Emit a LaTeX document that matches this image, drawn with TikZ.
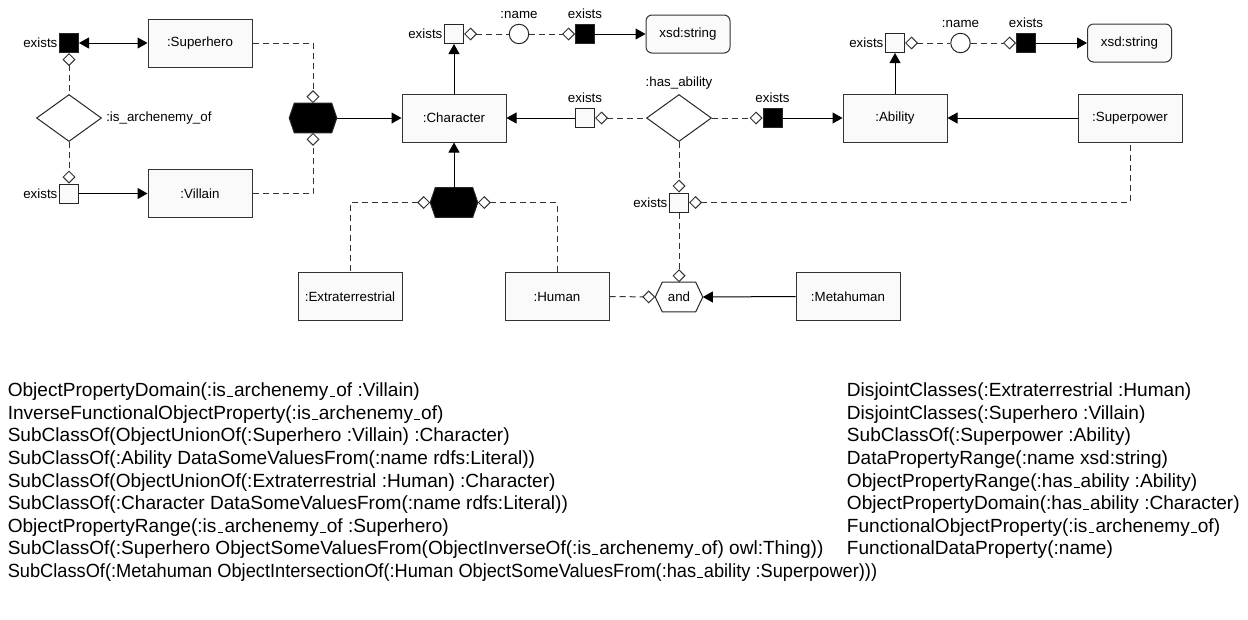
\documentclass[tikz,border=0pt]{standalone}
\usepackage{fontspec}
\usepackage{graphicx}
\setmainfont{Liberation Sans}
\usetikzlibrary{arrows.meta,shapes.geometric}

% underscore as a short rule on the baseline
\newcommand{\axus}{\kern.06em\vbox{\hrule width .3em}\kern.06em}

\tikzset{
  tri/.tip={Triangle[length=7.5pt,width=8.25pt]},
  dmd/.tip={Diamond[open,length=9.75pt,width=9.75pt]},
  cls/.style={rectangle, draw=black!80, fill=black!2, line width=0.75pt,
    minimum width=78pt, minimum height=36pt, inner sep=0pt},
  dtype/.style={cls, rounded corners=4.5pt, minimum width=63pt, minimum height=28.5pt},
  exw/.style={rectangle, draw=black!85, fill=black!2, line width=0.75pt,
    minimum size=14.25pt, inner sep=0pt},
  exb/.style={exw, fill=black},
  prop/.style={diamond, draw=black!85, fill=white, line width=0.75pt,
    minimum width=48.75pt, minimum height=35.25pt, inner sep=0pt},
  dprop/.style={circle, draw=black!85, fill=white, line width=0.75pt,
    minimum size=14.6pt, inner sep=0pt},
  hexbox/.style={rectangle, minimum width=35.25pt, minimum height=21.75pt, inner sep=0pt},
  hexline/.style={draw=black!85, line width=0.75pt},
  sub/.style={draw=black, line width=0.75pt, -{tri}},
  link/.style={draw=black!80, line width=0.75pt, dash pattern=on 4.5pt off 3pt},
  lblL/.style 2 args={label={[name=#1,inner sep=0pt,label distance=1pt]left:{#2}}},
  lblA/.style 2 args={label={[name=#1,inner sep=0pt,label distance=3.5pt]above:{#2}}},
  lblR/.style 2 args={label={[name=#1,inner sep=0pt,label distance=3pt]right:{#2}}},
  axiom/.style={anchor=base west, inner sep=0pt, font=\fontsize{14.3pt}{17pt}\selectfont},
}

\begin{document}
\begin{tikzpicture}[x=0.75pt, y=-0.75pt, font=\fontsize{10pt}{12pt}\selectfont]
\useasboundingbox (0,0) rectangle (1248,619);

% ---------- heroes and villains ----------
\node[cls] (hero) at (200,43) {:Superhero};
\node[cls] (villain) at (200,193.5) {:Villain};
\node[exb, lblL={lExHero}{exists}] (exHero) at (69,43) {};
\node[prop, lblR={lIsA}{:is\_archenemy\_of}] (isA) at (69,118) {};
\node[exw, lblL={lExVil}{exists}] (exVil) at (69,193.5) {};
\node[hexbox] (uHV) at (313,118) {};
\path[hexline, fill=black] ([xshift=3.75pt]uHV.north west) -- ([xshift=-3.75pt]uHV.north east)
  -- (uHV.east) -- ([xshift=-3.75pt]uHV.south east) -- ([xshift=3.75pt]uHV.south west)
  -- (uHV.west) -- cycle;

% ---------- character and its name ----------
\node[cls] (char) at (454,118) {:Character};
\node[exw, lblL={lExCN}{exists}] (exCN) at (454,34) {};
\node[dprop, lblA={lNmC}{:name}] (nmC) at (519,34) {};
\node[exb, lblA={lExCS}{exists}] (exCS) at (585,34) {};
\node[dtype] (strC) at (688,34) {xsd:string};

% ---------- has_ability ----------
\node[exw, lblA={lExHD}{exists}] (exHD) at (585,118) {};
\node[prop, lblA={lHasA}{:has\_ability}] (hasA) at (679,118) {};
\node[exb, lblA={lExHR}{exists}] (exHR) at (772.5,118) {};

% ---------- ability ----------
\node[cls] (abil) at (895,118) {:Ability};
\node[exw, lblL={lExAN}{exists}] (exAN) at (895,43) {};
\node[dprop, lblA={lNmA}{:name}] (nmA) at (960.5,43) {};
\node[exb, lblA={lExAS}{exists}] (exAS) at (1026,43) {};
\node[dtype] (strA) at (1129.5,43) {xsd:string};
\node[cls] (spow) at (1130,118) {:Superpower};

% ---------- lower part ----------
\node[exw, lblL={lExAb}{exists}] (exAb) at (679,202.5) {};
\node[hexbox] (uEH) at (454,202.5) {};
\path[hexline, fill=black] ([xshift=3.75pt]uEH.north west) -- ([xshift=-3.75pt]uEH.north east)
  -- (uEH.east) -- ([xshift=-3.75pt]uEH.south east) -- ([xshift=3.75pt]uEH.south west)
  -- (uEH.west) -- cycle;
\node[cls] (extra) at (350,296.5) {:Extraterrestrial};
\node[cls] (human) at (557,296.5) {:Human};
\node[hexbox] (andN) at (679,297) {};
\path[hexline, fill=white] ([xshift=5.25pt]andN.north west) -- ([xshift=-5.25pt]andN.north east)
  -- (andN.east) -- ([xshift=-5.25pt]andN.south east) -- ([xshift=5.25pt]andN.south west)
  -- (andN.west) -- cycle;
\node[inner sep=0pt] (andLbl) at (andN) {and};
\node[cls] (meta) at (848,296.5) {:Metahuman};

% ---------- connectors ----------
\draw[sub, {tri}-{tri}] (exHero) -- (hero);
\draw[link, {dmd}-] (exHero) -- (isA);
\draw[link, -{dmd}] (isA) -- (exVil);
\draw[sub] (exVil) -- (villain);
\draw[link, -{dmd}] (hero.east) -| (uHV.north);
\draw[link, -{dmd}] (villain.east) -| (uHV.south);
\draw[sub] (uHV.east) -- (char.west);

\draw[sub] (char) -- (exCN);
\draw[link, {dmd}-] (exCN) -- (nmC);
\draw[link, -{dmd}] (nmC) -- (exCS);
\draw[sub] (exCS) -- (strC);

\draw[sub] (exHD) -- (char);
\draw[link, {dmd}-] (exHD) -- (hasA);
\draw[link, -{dmd}] (hasA) -- (exHR);
\draw[sub] (exHR) -- (abil);

\draw[sub] (abil) -- (exAN);
\draw[link, {dmd}-] (exAN) -- (nmA);
\draw[link, -{dmd}] (nmA) -- (exAS);
\draw[sub] (exAS) -- (strA);
\draw[sub] (spow) -- (abil);

\draw[link, -{dmd}] (hasA) -- (exAb);
\draw[link, {dmd}-] (exAb.east) -| (spow.south);
\draw[link, -{dmd}] (exAb.south) -- (andN.north);
\draw[link, -{dmd}] (human.east) -- (andN.west);
\draw[sub] (meta.west) -- (andN.east);

\draw[sub] (uEH.north) -- (char.south);
\draw[link, {dmd}-] (uEH.west) -| (extra.north);
\draw[link, {dmd}-] (uEH.east) -| (human.north);

% ---------- axioms ----------
\node[axiom] (axL1) at (7.5,396.7) {ObjectPropertyDomain(:is\axus archenemy\axus of :Villain)};
\node[axiom] (axL2) at (7.5,419.3) {InverseFunctionalObjectProperty(:is\axus archenemy\axus of)};
\node[axiom] (axL3) at (7.5,441.9) {SubClassOf(ObjectUnionOf(:Superhero :Villain) :Character)};
\node[axiom] (axL4) at (7.5,464.5) {SubClassOf(:Ability DataSomeValuesFrom(:name rdfs:Literal))};
\node[axiom] (axL5) at (7.5,487.1) {SubClassOf(ObjectUnionOf(:Extraterrestrial :Human) :Character)};
\node[axiom] (axL6) at (7.5,509.7) {SubClassOf(:Character DataSomeValuesFrom(:name rdfs:Literal))};
\node[axiom] (axL7) at (7.5,532.3) {ObjectPropertyRange(:is\axus archenemy\axus of :Superhero)};
\node[axiom] (axL8) at (7.5,554.9) {SubClassOf(:Superhero ObjectSomeValuesFrom(ObjectInverseOf(:is\axus archenemy\axus of) owl:Thing))};
\node[axiom] (axL9) at (7.5,577.5) {\resizebox{652pt}{\height}{SubClassOf(:Metahuman ObjectIntersectionOf(:Human ObjectSomeValuesFrom(:has\axus ability :Superpower)))}};

\node[axiom] (axR1) at (846.7,396.7) {DisjointClasses(:Extraterrestrial :Human)};
\node[axiom] (axR2) at (846.7,419.3) {DisjointClasses(:Superhero :Villain)};
\node[axiom] (axR3) at (846.7,441.9) {SubClassOf(:Superpower :Ability)};
\node[axiom] (axR4) at (846.7,464.5) {DataPropertyRange(:name xsd:string)};
\node[axiom] (axR5) at (846.7,487.1) {ObjectPropertyRange(:has\axus ability :Ability)};
\node[axiom] (axR6) at (846.7,509.7) {ObjectPropertyDomain(:has\axus ability :Character)};
\node[axiom] (axR7) at (846.7,532.3) {FunctionalObjectProperty(:is\axus archenemy\axus of)};
\node[axiom] (axR8) at (846.7,554.9) {FunctionalDataProperty(:name)};
\end{tikzpicture}
\end{document}
